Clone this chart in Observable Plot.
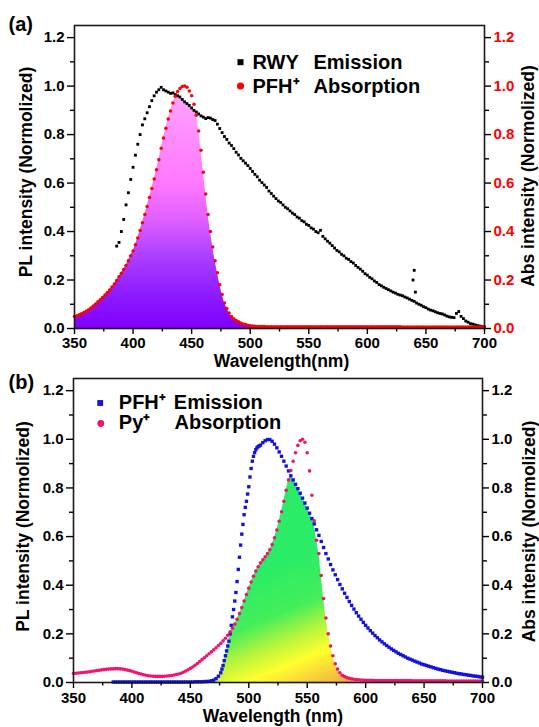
<!DOCTYPE html>
<html><head><meta charset="utf-8">
<script src="https://cdn.jsdelivr.net/npm/d3@7"></script>
<script src="https://cdn.jsdelivr.net/npm/@observablehq/plot@0.6"></script>
<style>
body{margin:0;background:#fff;}
#chart{width:539px;height:727px;overflow:hidden;background:#fff;}
#chart svg{display:block;}
</style></head><body><div id="chart"></div>
<script>
const FONT = "'Liberation Sans', Arial, Helvetica, sans-serif";

// ---------- tick labels ----------
const xTicks = [350, 400, 450, 500, 550, 600, 650, 700];
const xMinor = [375, 425, 475, 525, 575, 625, 675];
const yTicks = [0.0, 0.2, 0.4, 0.6, 0.8, 1.0, 1.2];
const yMinor = [0.1, 0.3, 0.5, 0.7, 0.9, 1.1];

// ---------- panel (a): RWY emission (black squares) ----------
const rwyEmWl = d3.range(386, 701, 2);
const rwyEm = [
  0.34, 0.355, 0.40, 0.45, 0.51, 0.56, 0.615, 0.665, 0.715, 0.76,
  0.80, 0.84, 0.865, 0.89, 0.915, 0.94, 0.96, 0.975, 0.985, 0.995,
  0.985, 0.98, 0.975, 0.97, 0.972, 0.965, 0.96, 0.955, 0.945, 0.935,
  0.928, 0.92, 0.91, 0.90, 0.893, 0.885, 0.877, 0.872, 0.866, 0.87,
  0.868, 0.862, 0.858, 0.843, 0.825, 0.808, 0.792, 0.78, 0.765, 0.755,
  0.742, 0.727, 0.716, 0.702, 0.692, 0.682, 0.672, 0.66, 0.648, 0.636,
  0.626, 0.612, 0.602, 0.592, 0.582, 0.567, 0.557, 0.546, 0.536, 0.526,
  0.52, 0.51, 0.50, 0.494, 0.485, 0.476, 0.47, 0.46, 0.455, 0.445,
  0.44, 0.43, 0.425, 0.415, 0.41, 0.40, 0.395, 0.405, 0.38, 0.37,
  0.36, 0.352, 0.342, 0.332, 0.322, 0.316, 0.306, 0.30, 0.29, 0.285,
  0.276, 0.27, 0.26, 0.252, 0.245, 0.236, 0.226, 0.22, 0.211, 0.205,
  0.196, 0.19, 0.181, 0.176, 0.17, 0.165, 0.16, 0.155, 0.15, 0.146,
  0.141, 0.138, 0.135, 0.13, 0.126, 0.121, 0.116, 0.112, 0.105, 0.10,
  0.096, 0.09, 0.086, 0.08, 0.076, 0.073, 0.069, 0.065, 0.062, 0.06,
  0.056, 0.051, 0.048, 0.046, 0.045, 0.062, 0.07, 0.05, 0.041, 0.031,
  0.026, 0.02, 0.018, 0.015, 0.012, 0.01, 0.008, 0.006
];
const rwySpikeWl = [639, 640, 641];
const rwySpike = [0.20, 0.24, 0.15];

// ---------- panel (a): PFH+ absorption (red circles) ----------
const pfhAbsWl = d3.range(350, 701, 2);
const pfhAbs = [
  0.05, 0.053, 0.057, 0.061, 0.066, 0.071, 0.077, 0.085, 0.093, 0.101,
  0.11, 0.119, 0.128, 0.138, 0.148, 0.159, 0.171, 0.184, 0.198, 0.213,
  0.228, 0.243, 0.26, 0.28, 0.30, 0.32, 0.345, 0.373, 0.404, 0.436,
  0.47, 0.503, 0.54, 0.578, 0.617, 0.655, 0.696, 0.744, 0.786, 0.826,
  0.864, 0.897, 0.93, 0.958, 0.978, 0.99, 0.998, 1.0, 0.995, 0.98,
  0.96, 0.925, 0.88, 0.815, 0.735, 0.645, 0.555, 0.47, 0.40, 0.336,
  0.28, 0.23, 0.18, 0.14, 0.105, 0.082, 0.064, 0.05, 0.04, 0.033,
  0.028, 0.023, 0.019, 0.016, 0.013, 0.011, 0.01, 0.009, 0.008, 0.008,
  0.008, 0.008, 0.007, 0.007, 0.007, 0.007, 0.007, 0.007, 0.007, 0.007,
  0.007, 0.007, 0.007, 0.007, 0.007, 0.007, 0.007, 0.007, 0.007, 0.007,
  0.007, 0.007, 0.007, 0.007, 0.007, 0.007, 0.007, 0.007, 0.007, 0.007,
  0.007, 0.007, 0.007, 0.007, 0.007, 0.007, 0.007, 0.007, 0.007, 0.007,
  0.007, 0.007, 0.007, 0.007, 0.007, 0.007, 0.007, 0.007, 0.007, 0.007,
  0.007, 0.007, 0.007, 0.007, 0.007, 0.007, 0.007, 0.007, 0.007, 0.007,
  0.006, 0.006, 0.006, 0.006, 0.006, 0.006, 0.006, 0.006, 0.006, 0.006,
  0.006, 0.006, 0.006, 0.006, 0.006, 0.006, 0.006, 0.006, 0.006, 0.006,
  0.006, 0.006, 0.006, 0.006, 0.006, 0.006, 0.006, 0.006, 0.006, 0.006,
  0.006, 0.006, 0.006, 0.006, 0.006, 0.006
];

// ---------- panel (b): PFH+ emission (blue squares) ----------
const pfhEmWl = [...d3.range(384, 476, 2), ...d3.range(476, 510, 1), ...d3.range(510, 701, 2)];
const pfhEm = [
  0.002, 0.002, 0.002, 0.002, 0.002, 0.002, 0.002, 0.002, 0.002, 0.002,
  0.002, 0.002, 0.002, 0.002, 0.002, 0.002, 0.002, 0.002, 0.002, 0.002,
  0.002, 0.002, 0.002, 0.002, 0.002, 0.002, 0.002, 0.002, 0.002, 0.002,
  0.002, 0.002, 0.002, 0.002, 0.002, 0.003, 0.003, 0.003, 0.003, 0.004,
  0.004, 0.005, 0.007, 0.01, 0.016, 0.026,
  0.04, 0.055, 0.07, 0.09, 0.11, 0.13, 0.15, 0.17, 0.20, 0.235,
  0.27, 0.30, 0.335, 0.37, 0.415, 0.465, 0.515, 0.565, 0.61, 0.65,
  0.69, 0.72, 0.745, 0.775, 0.805, 0.845, 0.88, 0.91, 0.93, 0.945,
  0.957, 0.965, 0.97, 0.973,
  0.976, 0.986, 0.994, 0.999, 0.999, 0.992, 0.98, 0.965, 0.948, 0.93,
  0.91, 0.89, 0.87, 0.85, 0.833, 0.815, 0.797, 0.778, 0.758, 0.738,
  0.717, 0.696, 0.674, 0.652, 0.628, 0.605, 0.58, 0.555, 0.53, 0.508,
  0.485, 0.463, 0.443, 0.423, 0.403, 0.385, 0.367, 0.35, 0.333, 0.317,
  0.302, 0.287, 0.273, 0.26, 0.247, 0.235, 0.224, 0.213, 0.203, 0.193,
  0.184, 0.175, 0.167, 0.159, 0.152, 0.145, 0.138, 0.132, 0.126, 0.12,
  0.115, 0.11, 0.105, 0.10, 0.096, 0.092, 0.088, 0.084, 0.08, 0.076,
  0.073, 0.07, 0.067, 0.064, 0.061, 0.058, 0.055, 0.053, 0.05, 0.048,
  0.046, 0.044, 0.042, 0.04, 0.038, 0.036, 0.035, 0.033, 0.032, 0.03,
  0.029, 0.027, 0.026, 0.025, 0.023, 0.022
];

// ---------- panel (b): Py+ absorption (pink circles) ----------
const pyAbsWl = d3.range(350, 701, 2);
const pyAbs = [
  0.037, 0.038, 0.039, 0.04, 0.041, 0.042, 0.043, 0.044, 0.046, 0.047,
  0.049, 0.05, 0.052, 0.053, 0.054, 0.055, 0.056, 0.056, 0.057, 0.057,
  0.056, 0.055, 0.053, 0.051, 0.049, 0.046, 0.043, 0.04, 0.037, 0.035,
  0.032, 0.03, 0.028, 0.027, 0.026, 0.025, 0.025, 0.025, 0.025, 0.026,
  0.027, 0.028, 0.029, 0.031, 0.033, 0.035, 0.038, 0.042, 0.047, 0.052,
  0.058, 0.064, 0.071, 0.078, 0.086, 0.094, 0.102, 0.11, 0.118, 0.126,
  0.134, 0.143, 0.152, 0.161, 0.171, 0.182, 0.194, 0.208, 0.223, 0.24,
  0.26, 0.283, 0.308, 0.335, 0.362, 0.388, 0.413, 0.437, 0.458, 0.476,
  0.492, 0.505, 0.517, 0.53, 0.546, 0.567, 0.595, 0.627, 0.663, 0.702,
  0.745, 0.79, 0.833, 0.872, 0.91, 0.945, 0.975, 0.994, 1.0, 0.988,
  0.945, 0.87, 0.77, 0.665, 0.585, 0.53, 0.44, 0.345, 0.265, 0.20,
  0.15, 0.11, 0.077, 0.055, 0.04, 0.03, 0.024, 0.02, 0.017, 0.015,
  0.013, 0.012, 0.011, 0.01, 0.01, 0.009, 0.009, 0.009, 0.009, 0.008,
  0.008, 0.008, 0.008, 0.008, 0.008, 0.008, 0.008, 0.008, 0.008, 0.008,
  0.008, 0.008, 0.008, 0.008, 0.008, 0.007, 0.007, 0.007, 0.007, 0.007,
  0.007, 0.007, 0.007, 0.007, 0.007, 0.007, 0.007, 0.007, 0.007, 0.007,
  0.006, 0.006, 0.006, 0.006, 0.006, 0.006, 0.006, 0.006, 0.006, 0.006,
  0.006, 0.006, 0.006, 0.006, 0.006, 0.006
];

// ---------- text ----------
const panelLabels = ["(a)", "(b)"];
const yTitleLeft = "PL intensity (Normolized)";
const yTitleRight = "Abs intensity (Normolized)";
const xTitleA = "Wavelength(nm)";
const xTitleB = "Wavelength (nm)";
const legendA = [["RWY", "Emission"], ["PFH\u207A", "Absorption"]];
const legendB = [["PFH\u207A", "Emission"], ["Py\u207A", "Absorption"]];

// ---------- helpers ----------
const zip = (ws, vs) => ws.map((w, i) => ({w, v: vs[i]}));
const emA = zip(rwyEmWl, rwyEm);
const spikeA = zip(rwySpikeWl, rwySpike);
const absA = zip(pfhAbsWl, pfhAbs);
const emB = zip(pfhEmWl, pfhEm);
const absB = zip(pyAbsWl, pyAbs);

const emAMap = new Map(rwyEmWl.map((w, i) => [w, rwyEm[i]]));
const overlapA = pfhAbsWl.map((w, i) => ({w, v: Math.min(pfhAbs[i], emAMap.has(w) ? emAMap.get(w) : Infinity)}));
const emBMap = new Map(pfhEmWl.map((w, i) => [w, pfhEm[i]]));
const overlapB = pyAbsWl.map((w, i) => ({w, v: Math.min(pyAbs[i], emBMap.has(w) ? emBMap.get(w) : 0)}));

function gradientMark(id, stops, from, to) {
  return (index, scales) => {
    const ns = "http://www.w3.org/2000/svg";
    const defs = document.createElementNS(ns, "defs");
    const g = document.createElementNS(ns, "linearGradient");
    g.setAttribute("id", id);
    g.setAttribute("gradientUnits", "userSpaceOnUse");
    g.setAttribute("x1", scales.x(from[0]));
    g.setAttribute("y1", scales.y(from[1]));
    g.setAttribute("x2", scales.x(to[0]));
    g.setAttribute("y2", scales.y(to[1]));
    for (const [o, c] of stops) {
      const s = document.createElementNS(ns, "stop");
      s.setAttribute("offset", o);
      s.setAttribute("stop-color", c);
      g.appendChild(s);
    }
    defs.appendChild(g);
    return defs;
  };
}

function axes(rightColor, padX) {
  return [
    Plot.axisX({ticks: xTicks, tickSize: 6, tickPadding: padX, tickFormat: d => String(d), label: null, fontSize: 15, fontWeight: "bold", strokeWidth: 1.4}),
    Plot.axisX({ticks: xMinor, tickSize: 3.5, tickFormat: () => "", label: null, strokeWidth: 1.4}),
    Plot.axisY({ticks: yTicks, tickSize: 7, tickPadding: 3, tickFormat: d => d.toFixed(1), label: null, fontSize: 15, fontWeight: "bold", strokeWidth: 1.4}),
    Plot.axisY({ticks: yMinor, tickSize: 4, tickFormat: () => "", label: null, strokeWidth: 1.4}),
    Plot.axisY({anchor: "right", ticks: yTicks, tickSize: 6, tickPadding: 3, tickFormat: d => d.toFixed(1), label: null, fontSize: 15, fontWeight: "bold", stroke: "black", fill: rightColor, strokeWidth: 1.4}),
    Plot.axisY({anchor: "right", ticks: yMinor, tickSize: 4, tickFormat: () => "", label: null, strokeWidth: 1.4})
  ];
}

const T = {fontSize: 17.5, fontWeight: "bold", fill: "black"};
const L = {fontSize: 20, fontWeight: "bold", fill: "black", textAnchor: "start", lineAnchor: "bottom", frameAnchor: "top-left"};

const plotA = Plot.plot({
  width: 539, height: 370,
  marginLeft: 74, marginRight: 55, marginTop: 25, marginBottom: 42,
  x: {domain: [350, 700]},
  y: {domain: [0, 1.25]},
  style: {fontFamily: FONT, fontSize: "15px", fontWeight: "bold", color: "black", background: "white", overflow: "visible"},
  marks: [
    gradientMark("gradA", [[0, "#8200ff"], [0.15, "#8e1eff"], [0.3, "#ae40ff"], [0.45, "#e060ff"], [0.6, "#ff78ff"], [0.8, "#ff8eff"], [1, "#ffa8ff"]], [440, 0], [440, 1.0]),
    Plot.areaY(overlapA, {x: "w", y: "v", fill: "url(#gradA)"}),
    Plot.dot(emA, {x: "w", y: "v", symbol: "square", r: 1.6, fill: "black"}),
    Plot.dot(spikeA, {x: "w", y: "v", symbol: "square", r: 1.6, fill: "black"}),
    Plot.dot(absA, {x: "w", y: "v", r: 1.75, fill: "#ff0000"}),
    Plot.frame({stroke: "#1a1a1a", strokeWidth: 1.6}),
    ...axes("#ff0000", 3),
    Plot.text([xTitleA], {text: d => d, frameAnchor: "bottom", dx: 2, dy: 38.5, lineAnchor: "bottom", ...T}),
    Plot.text([yTitleLeft], {text: d => d, frameAnchor: "left", rotate: -90, dx: -48, dy: -5, textAnchor: "middle", lineAnchor: "middle", ...T}),
    Plot.text([yTitleRight], {text: d => d, frameAnchor: "right", rotate: -90, dx: 44, dy: -1, textAnchor: "middle", lineAnchor: "middle", ...T}),
    Plot.text([panelLabels[0]], {text: d => d, ...L, dx: -66, dy: 5}),
    Plot.dot([0], {frameAnchor: "top-left", dx: 166, dy: 36.7, symbol: "square", r: 3.4, fill: "black"}),
    Plot.dot([0], {frameAnchor: "top-left", dx: 166, dy: 60.5, r: 3.6, fill: "#ff0000"}),
    Plot.text([legendA[0][0]], {text: d => d, ...L, dx: 178, dy: 43.3}),
    Plot.text([legendA[0][1]], {text: d => d, ...L, dx: 239, dy: 43.3}),
    Plot.text([legendA[1][0]], {text: d => d, ...L, dx: 178, dy: 67.3}),
    Plot.text([legendA[1][1]], {text: d => d, ...L, dx: 239, dy: 67.3})
  ]
});

const plotB = Plot.plot({
  width: 539, height: 357,
  marginLeft: 73, marginRight: 57, marginTop: 8, marginBottom: 45,
  x: {domain: [350, 700]},
  y: {domain: [0, 1.25]},
  style: {fontFamily: FONT, fontSize: "15px", fontWeight: "bold", color: "black", background: "white", overflow: "visible"},
  marks: [
    gradientMark("gradB", [[0, "#f2a94a"], [0.12, "#f8cf3a"], [0.28, "#ffff2e"], [0.45, "#b8f53c"], [0.65, "#44ee5a"], [1, "#2aec66"]], [575, -0.02], [530, 0.5]),
    Plot.areaY(overlapB, {x: "w", y: "v", fill: "url(#gradB)"}),
    Plot.dot(emB, {x: "w", y: "v", symbol: "square", r: 1.9, fill: "#1212e0"}),
    Plot.dot(absB, {x: "w", y: "v", r: 1.8, fill: "#f01470"}),
    Plot.frame({stroke: "#1a1a1a", strokeWidth: 1.6}),
    ...axes("black", 4),
    Plot.text([xTitleB], {text: d => d, frameAnchor: "bottom", dx: -5, dy: 39.5, lineAnchor: "bottom", ...T}),
    Plot.text([yTitleLeft], {text: d => d, frameAnchor: "left", rotate: -90, dx: -50, dy: -4, textAnchor: "middle", lineAnchor: "middle", ...T}),
    Plot.text([yTitleRight], {text: d => d, frameAnchor: "right", rotate: -90, dx: 47, dy: 1, textAnchor: "middle", lineAnchor: "middle", ...T}),
    Plot.text([panelLabels[1]], {text: d => d, ...L, dx: -65, dy: 10}),
    Plot.dot([0], {frameAnchor: "top-left", dx: 26.7, dy: 24.5, symbol: "square", r: 3.3, fill: "#1212e0"}),
    Plot.dot([0], {frameAnchor: "top-left", dx: 27.3, dy: 45, r: 3.4, fill: "#f01470"}),
    Plot.text([legendB[0][0]], {text: d => d, ...L, dx: 45.3, dy: 30.7}),
    Plot.text([legendB[0][1]], {text: d => d, ...L, dx: 100.3, dy: 30.7}),
    Plot.text([legendB[1][0]], {text: d => d, ...L, dx: 45.3, dy: 50.7}),
    Plot.text([legendB[1][1]], {text: d => d, ...L, dx: 101, dy: 50.7})
  ]
});

const chart = document.getElementById("chart");
chart.appendChild(plotA);
chart.appendChild(plotB);
</script>
</body></html>
